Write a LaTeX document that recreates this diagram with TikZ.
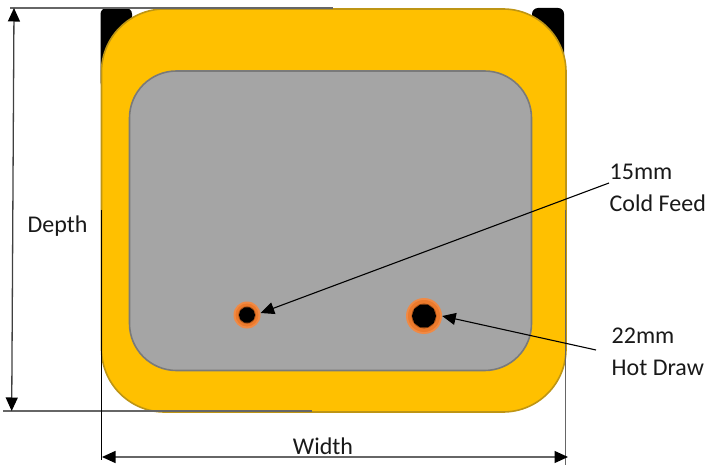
\documentclass[tikz,border=0pt]{standalone}
\usepackage{fontspec}
\setmainfont{Carlito}
\usetikzlibrary{arrows.meta,shapes.geometric}
\definecolor{amber}{HTML}{FFC000}
\definecolor{amberedge}{HTML}{BE9514}
\definecolor{slab}{HTML}{A5A5A5}
\definecolor{slabedge}{HTML}{7A7A7A}
\definecolor{pipeo}{HTML}{F08A45}
\definecolor{pipeh}{HTML}{EC7A2C}
\definecolor{pipeb}{HTML}{A85218}
\tikzset{
  tip/.style={-{Triangle[length=13.5pt,width=12pt,color=black]}},
  tips/.style={{Triangle[length=13.5pt,width=12pt,color=black]}-{Triangle[length=13.5pt,width=12pt,color=black]}},
  dimline/.style={draw=black!60!white,line width=1.3pt},
  thinline/.style={draw=black,line width=1.1pt},
  lbl/.style={font=\fontsize{24pt}{32pt}\selectfont,text=black!90,inner sep=0pt,align=left},
  halo/.style={circle,fill=pipeo,inner sep=0pt},
  core/.style={regular polygon,regular polygon sides=10,fill=black,inner sep=0pt}
}
\begin{document}
\begin{tikzpicture}[x=1pt,y=-1pt]
\useasboundingbox (0,0) rectangle (707,465);
% black tabs
\fill[black,rounded corners=6pt] (100.5,8) rectangle (132,88);
\fill[black,rounded corners=6pt] (532,8) rectangle (564,88);
% tank
\draw[fill=amber,draw=amberedge,line width=1.6pt,rounded corners=63pt] (101.5,9) rectangle (566,412);
\draw[fill=slab,draw=slabedge,line width=1.6pt,rounded corners=47pt] (129.5,71) rectangle (531.5,370.5);
% pipes
\node[halo,minimum size=27pt] (coldh) at (247,315) {};
\fill[pipeh] (coldh.center) circle (11.5pt);
\fill[pipeb] (coldh.center) circle (8.8pt);
\node[core,minimum size=16pt] (coldc) at (247,315) {};
\node[halo,minimum size=36pt] (hoth) at (424,316) {};
\fill[pipeh] (hoth.center) circle (16pt);
\fill[pipeb] (hoth.center) circle (12.6pt);
\node[core,minimum size=24pt] (hotc) at (424,316) {};
% coordinates
\coordinate (tl) at (10,8);
\coordinate (tr) at (333,8);
\coordinate (bl) at (3,411);
\coordinate (br) at (312,411);
\coordinate (dt) at (14,8);
\coordinate (db) at (11.7,411);
\coordinate (wl) at (102,457);
\coordinate (wr) at (568,457);
\coordinate (el1) at (101.3,210);
\coordinate (el2) at (101.3,460);
\coordinate (er1) at (565.8,210);
\coordinate (er2) at (565.8,465);
% extension lines
\draw[dimline] (tl) -- (tr);
\draw[dimline] (bl) -- (br);
\draw[thinline] (el1) -- (el2);
\draw[dimline] (er1) -- (er2);
% labels
\node[lbl] (depth) at (57.5,226.5) {Depth};
\node[lbl] (width) at (323,446) {Width};
\node[lbl,anchor=west] (cold) at (609.5,188) {15mm\\Cold Feed};
\node[lbl,anchor=west] (hot) at (611.5,352) {22mm\\Hot Draw};
% dimension arrows
\draw[dimline,draw=black!75,tips] (dt) -- (db);
\draw[dimline,tips] (wl) -- (wr);
% leaders
\coordinate (c1) at (609,183);
\coordinate (c2) at (596,350);
\draw[thinline,tip] (c1) -- (coldh.east |- 0,313);
\draw[thinline,tip] (c2) -- (hoth.east);
\end{tikzpicture}
\end{document}
